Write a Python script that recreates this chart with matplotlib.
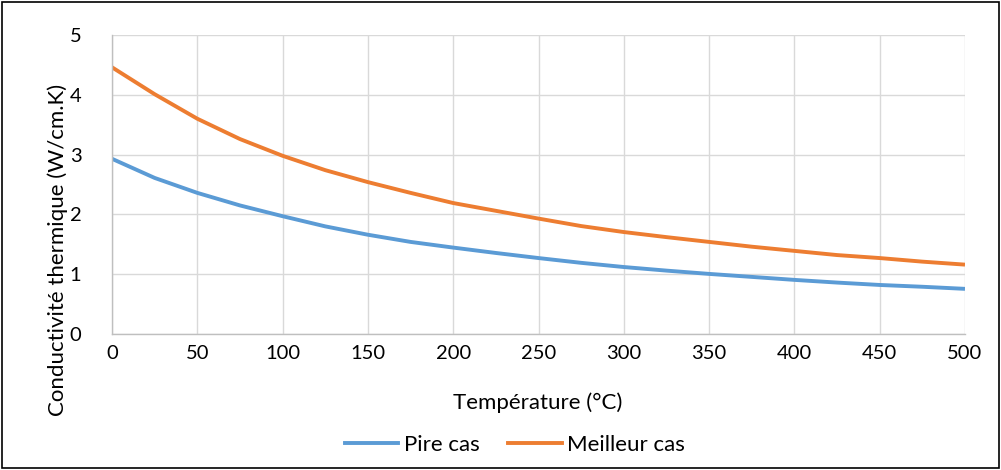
import matplotlib
matplotlib.use("Agg")
import matplotlib.pyplot as plt
from matplotlib.patches import Rectangle
from matplotlib.lines import Line2D

temperature = [0, 25, 50, 75, 100, 125, 150, 175, 200, 225, 250, 275, 300,
               325, 350, 375, 400, 425, 450, 475, 500]
pire_cas = [2.93, 2.61, 2.36, 2.15, 1.97, 1.80, 1.66, 1.54, 1.445, 1.355, 1.27,
            1.19, 1.12, 1.06, 1.005, 0.955, 0.905, 0.86, 0.82, 0.79, 0.755]
meilleur_cas = [4.46, 4.01, 3.60, 3.26, 2.98, 2.74, 2.54, 2.36, 2.19, 2.06, 1.93,
                1.805, 1.705, 1.62, 1.54, 1.46, 1.39, 1.32, 1.27, 1.21, 1.16]
x_ticks = list(range(0, 501, 50))
y_ticks = [0, 1, 2, 3, 4, 5]

plt.rcParams['font.family'] = ['Lato', 'DejaVu Sans']

W, H = 1001, 470
fig = plt.figure(figsize=(W / 100, H / 100), dpi=100)
ax = fig.add_axes([112 / W, 1 - 334 / H, (965 - 112) / W, (334 - 35) / H])

blue = '#5B9BD5'
orange = '#ED7D31'
ax.plot(temperature, pire_cas, color=blue, lw=2.8, solid_capstyle='butt')
ax.plot(temperature, meilleur_cas, color=orange, lw=2.8, solid_capstyle='butt')

ax.set_xlim(0, 500)
ax.set_ylim(0, 5)
ax.set_xticks(x_ticks)
ax.set_yticks(y_ticks)
ax.grid(True, color='#d9d9d9', lw=1.0)
ax.set_axisbelow(True)
for s in ['top', 'right']:
    ax.spines[s].set_visible(False)
ax.spines['left'].set_color('#bfbfbf')
ax.spines['bottom'].set_color('#bfbfbf')
ax.spines['left'].set_linewidth(1.0)
ax.spines['bottom'].set_linewidth(1.0)
ax.tick_params(length=0, labelsize=14.5, colors='black')
ax.tick_params(axis='y', pad=22)
ax.tick_params(axis='x', pad=8)

fig.text(58 / W, 1 - 250 / H, 'Conductivité thermique (W/cm.K)', rotation=90,
         ha='center', va='center', fontsize=16)
fig.text(538 / W, 1 - 403 / H, 'Température (°C)', ha='center', va='center', fontsize=16)

handles = [Line2D([], [], color=blue, lw=2.8), Line2D([], [], color=orange, lw=2.8)]
fig.legend(handles, ['Pire cas', 'Meilleur cas'], loc='center',
           bbox_to_anchor=(515 / W, 1 - 445 / H), ncol=2, frameon=False,
           fontsize=16, handlelength=2.4, handletextpad=0.25, columnspacing=1.3)

fig.patches.append(Rectangle((2 / W, 2 / H), 1 - 4 / W, 1 - 4 / H, transform=fig.transFigure,
                             fill=False, edgecolor='black', lw=1.2))

fig.savefig('out.png', dpi=100)
